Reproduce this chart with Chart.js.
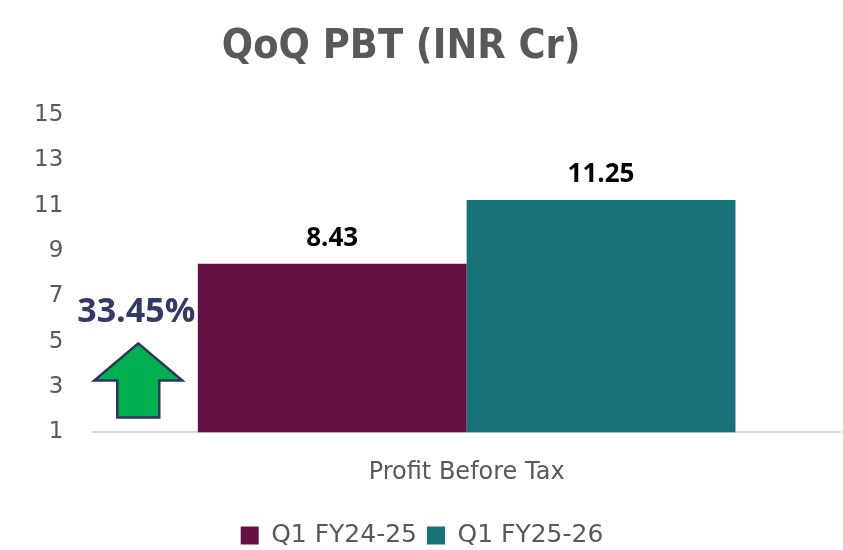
<!DOCTYPE html>
<html>
<head>
<meta charset="utf-8">
<script src="https://cdn.jsdelivr.net/npm/chart.js@4.4.1/dist/chart.umd.min.js"></script>
<style>
  html, body { margin: 0; padding: 0; background: #ffffff; }
  #wrap { width: 843px; height: 550px; }
</style>
</head>
<body>
<div id="wrap"><canvas id="pbt-chart" width="843" height="550"></canvas></div>
<script>
const categories = ['Profit Before Tax'];
const seriesNames = ['Q1 FY24-25', 'Q1 FY25-26'];
const seriesValues = [[8.43], [11.25]];
const seriesColors = ['#651146', '#177279'];
const chartTitle = 'QoQ PBT (INR Cr)';
const growthLabel = '33.45%';

const TEXT_GRAY = '#595959';
const BODY_FONT = '"DejaVu Sans", sans-serif';

// título, etiquetas de valor sobre cada barra y flecha de crecimiento
const overlayPlugin = {
    id: 'overlay',
    afterDatasetsDraw(chart) {
        const ctx = chart.ctx;
        const area = chart.chartArea;
        const yScale = chart.scales.y;

        ctx.save();
        // título (Excel lo deja un poco a la izquierda del centro)
        ctx.font = 'bold 41px "DejaVu Sans Condensed", "Liberation Sans", sans-serif';
        ctx.fillStyle = TEXT_GRAY;
        ctx.textAlign = 'center';
        ctx.textBaseline = 'middle';
        ctx.fillText(chartTitle, chart.width * 0.476, 47);

        ctx.font = 'bold 26px "Open Sans", sans-serif';
        ctx.fillStyle = '#000000';
        ctx.textBaseline = 'alphabetic';
        chart.data.datasets.forEach((ds, i) => {
            chart.getDatasetMeta(i).data.forEach((bar, j) => {
                ctx.fillText(ds.data[j].toFixed(2), bar.x, bar.y - 18);
            });
        });

        // flecha verde
        const cx = area.left + 45;
        const tip = yScale.getPixelForValue(4.92);
        const shoulder = yScale.getPixelForValue(3.28);
        const bottom = yScale.getPixelForValue(1.65);
        const halfHead = 44;
        const halfStem = 21;
        ctx.beginPath();
        ctx.moveTo(cx, tip);
        ctx.lineTo(cx + halfHead, shoulder);
        ctx.lineTo(cx + halfStem, shoulder);
        ctx.lineTo(cx + halfStem, bottom);
        ctx.lineTo(cx - halfStem, bottom);
        ctx.lineTo(cx - halfStem, shoulder);
        ctx.lineTo(cx - halfHead, shoulder);
        ctx.closePath();
        ctx.fillStyle = '#00B050';
        ctx.fill();
        ctx.lineWidth = 2.5;
        ctx.strokeStyle = '#2F3360';
        ctx.stroke();

        ctx.font = 'bold 34px "Open Sans", sans-serif';
        ctx.fillStyle = '#333A66';
        ctx.fillText(growthLabel, cx - 2, yScale.getPixelForValue(5.85));
        ctx.restore();
    }
};

new Chart(document.getElementById('pbt-chart'), {
    type: 'bar',
    data: {
        labels: categories,
        datasets: seriesNames.map((name, i) => ({
            label: name,
            data: seriesValues[i],
            backgroundColor: seriesColors[i],
            borderWidth: 0,
            categoryPercentage: 0.72,
            barPercentage: 1
        }))
    },
    options: {
        responsive: false,
        animation: false,
        layout: { padding: { left: 4, right: 3, top: 115, bottom: -8 } },
        plugins: {
            title: { display: false },
            legend: {
                position: 'bottom',
                labels: {
                    color: TEXT_GRAY,
                    boxWidth: 18,
                    boxHeight: 18,
                    padding: 10,
                    font: { family: BODY_FONT, size: 25 }
                }
            },
            tooltip: { enabled: false }
        },
        scales: {
            x: {
                grid: { display: false, drawTicks: false },
                border: { display: true, color: '#D9D9D9', width: 2 },
                ticks: {
                    color: TEXT_GRAY,
                    padding: 26,
                    font: { family: BODY_FONT, size: 24 }
                }
            },
            y: {
                min: 1,
                max: 15,
                grid: { display: false, drawTicks: false },
                border: { display: false },
                ticks: {
                    stepSize: 2,
                    color: TEXT_GRAY,
                    padding: 30,
                    font: { family: BODY_FONT, size: 23 }
                }
            }
        }
    },
    plugins: [overlayPlugin]
});
</script>
</body>
</html>
